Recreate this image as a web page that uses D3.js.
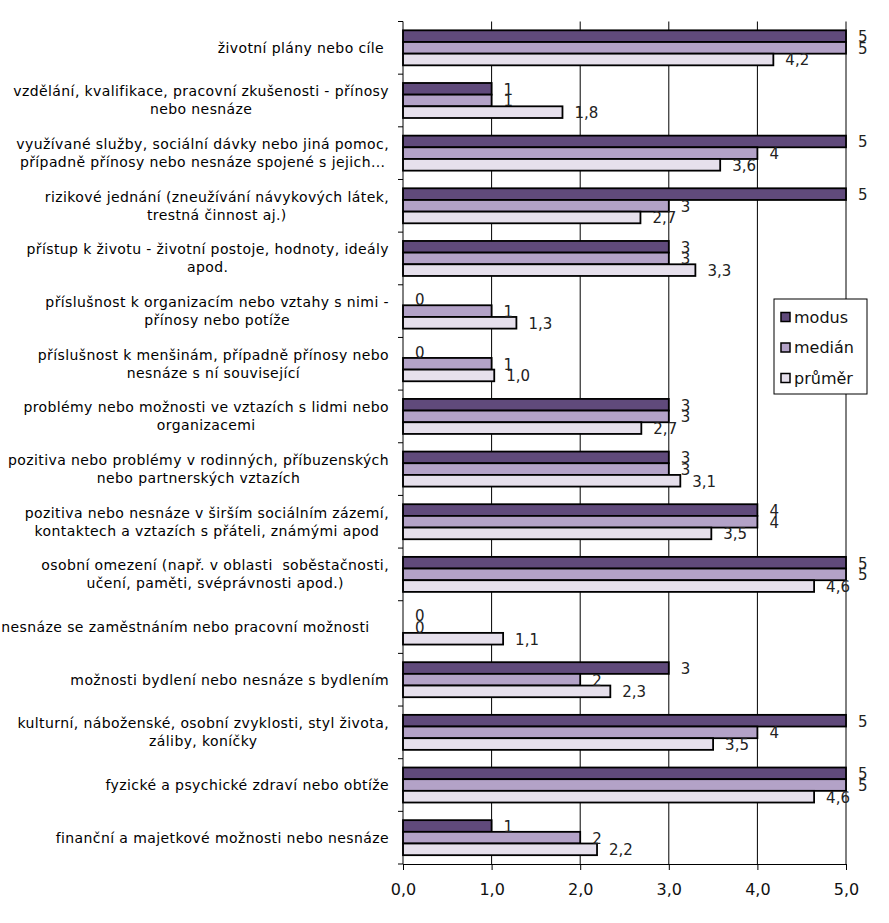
<!DOCTYPE html>
<html><head><meta charset="utf-8">
<script src="https://cdn.jsdelivr.net/npm/d3@7"></script>
<style>
body{margin:0;background:#fff;}
svg text{font-family:"DejaVu Sans",Verdana,sans-serif;white-space:pre;}
</style>
</head><body>
<svg id="chart" width="889" height="923"></svg>
<script>
const categories = [
  "životní plány nebo cíle ",
  "vzdělání, kvalifikace, pracovní zkušenosti - přínosy\nnebo nesnáze",
  "využívané služby, sociální dávky nebo jiná pomoc,\npřípadně přínosy nebo nesnáze spojené s jejich...",
  "rizikové jednání (zneužívání návykových látek,\ntrestná činnost aj.)",
  "přístup k životu - životní postoje, hodnoty, ideály\napod.",
  "příslušnost k organizacím nebo vztahy s nimi -\npřínosy nebo potíže",
  "příslušnost k menšinám, případně přínosy nebo\nnesnáze s ní související",
  "problémy nebo možnosti ve vztazích s lidmi nebo\norganizacemi",
  "pozitiva nebo problémy v rodinných, příbuzenských\nnebo partnerských vztazích",
  "pozitiva nebo nesnáze v širším sociálním zázemí,\nkontaktech a vztazích s přáteli, známými apod",
  "osobní omezení (např. v oblasti  soběstačnosti,\nučení, paměti, svéprávnosti apod.)",
  "nesnáze se zaměstnáním nebo pracovní možnosti    ",
  "možnosti bydlení nebo nesnáze s bydlením",
  "kulturní, náboženské, osobní zvyklosti, styl života,\nzáliby, koníčky",
  "fyzické a psychické zdraví nebo obtíže",
  "finanční a majetkové možnosti nebo nesnáze"
];
const seriesNames = ["modus", "medián", "průměr"];
const modus  = [5, 1, 5, 5, 3, 0, 0, 3, 3, 4, 5, 0, 3, 5, 5, 1];
const median = [5, 1, 4, 3, 3, 1, 1, 3, 3, 4, 5, 0, 2, 4, 5, 2];
const prumer = [4.18, 1.80, 3.58, 2.68, 3.30, 1.28, 1.03, 2.69, 3.13, 3.48, 4.64, 1.13, 2.34, 3.50, 4.64, 2.19];
const xTicks = [0, 1, 2, 3, 4, 5];
const colors = ["#604a7b", "#b3a2c7", "#e6e0ec"];

const svg = d3.select("#chart");
const pLeft = 403, pRight = 846, pTop = 21.5, pBottom = 864;

const x = d3.scaleLinear().domain([0, 5]).range([pLeft, pRight]);
const y = d3.scaleBand().domain(d3.range(categories.length)).range([pTop, pBottom]).paddingInner(0).paddingOuter(0);
const y1 = d3.scaleBand().domain(seriesNames).range([0, y.bandwidth()]).paddingInner(0).paddingOuter(0.756);
const seriesData = [modus, median, prumer];
const fmt = v => d3.format(".1f")(v).replace(".", ",");
const fmtSeries = [v => String(v), v => String(v), fmt];

// gridlines
svg.append("g").selectAll("line").data(xTicks.slice(1)).join("line")
  .attr("x1", d => x(d)).attr("x2", d => x(d))
  .attr("y1", pTop).attr("y2", pBottom)
  .attr("stroke", "#000").attr("stroke-width", 1);

// bars
const groups = svg.append("g").selectAll("g").data(categories).join("g")
  .attr("transform", (d, i) => `translate(0,${y(i)})`);
groups.each(function(c, i) {
  const g = d3.select(this);
  seriesNames.forEach((s, k) => {
    const v = seriesData[k][i];
    if (v > 0) {
      g.append("rect")
        .attr("x", x(0)).attr("y", y1(s))
        .attr("width", x(v) - x(0)).attr("height", y1.bandwidth())
        .attr("fill", colors[k]).attr("stroke", "#000").attr("stroke-width", 1.8);
    }
  });
});
// data labels
groups.each(function(c, i) {
  const g = d3.select(this);
  seriesNames.forEach((s, k) => {
    const v = seriesData[k][i];
    g.append("text")
      .attr("x", x(v) + 12).attr("y", y1(s) + y1.bandwidth() / 2 + 1)
      .attr("dominant-baseline", "central")
      .attr("font-size", 15).attr("fill", "#222")
      .text(fmtSeries[k](v));
  });
});

// x axis
const xAxis = d3.axisBottom(x).tickValues(xTicks).tickFormat(fmt).tickSize(6).tickPadding(13.5);
const xg = svg.append("g").attr("transform", `translate(0,${pBottom})`).call(xAxis);
xg.select(".domain").attr("stroke", "#000").attr("d", `M${pLeft},0.5H${pRight + 0.5}`);
xg.selectAll(".tick line").attr("stroke", "#000");
xg.selectAll("text").attr("font-size", 16).attr("fill", "#111").attr("font-family", "DejaVu Sans, Verdana, sans-serif");

// y axis line + ticks at band boundaries
svg.append("line").attr("x1", pLeft).attr("x2", pLeft).attr("y1", pTop).attr("y2", pBottom).attr("stroke", "#000");
const bounds = d3.range(categories.length).map(i => y(i)).concat([pBottom]);
svg.append("g").selectAll("line").data(bounds).join("line")
  .attr("x1", pLeft - 5).attr("x2", pLeft).attr("y1", d => d).attr("y2", d => d)
  .attr("stroke", "#000");

// category labels
const rightEdge = 389, lineH = 18;
categories.forEach((c, i) => {
  const lines = c.split("\n");
  const t = svg.append("text").attr("font-size", 14).attr("letter-spacing", 0.4)
    .attr("fill", "#000").attr("text-anchor", "middle");
  const cy = y(i) + y.bandwidth() / 2;
  const spans = lines.map((l, j) => t.append("tspan").text(l)
    .attr("y", cy + (j - (lines.length - 1) / 2) * lineH)
    .attr("dominant-baseline", "central"));
  const widths = spans.map(sp => sp.node().getComputedTextLength());
  const maxW = d3.max(widths);
  spans.forEach(sp => sp.attr("x", rightEdge - maxW / 2));
});

// legend
const lg = svg.append("g").attr("transform", "translate(774,299)");
lg.append("rect").attr("width", 93).attr("height", 95).attr("fill", "#fff").attr("stroke", "#000");
seriesNames.forEach((s, k) => {
  const cy = 18 + k * 30.5;
  lg.append("rect").attr("x", 7).attr("y", cy - 4.5).attr("width", 9).attr("height", 9)
    .attr("fill", colors[k]).attr("stroke", "#000").attr("stroke-width", 1.5);
  lg.append("text").attr("x", 20).attr("y", cy).attr("dominant-baseline", "central")
    .attr("font-size", 16).attr("fill", "#111").text(s);
});
</script>
</body></html>
